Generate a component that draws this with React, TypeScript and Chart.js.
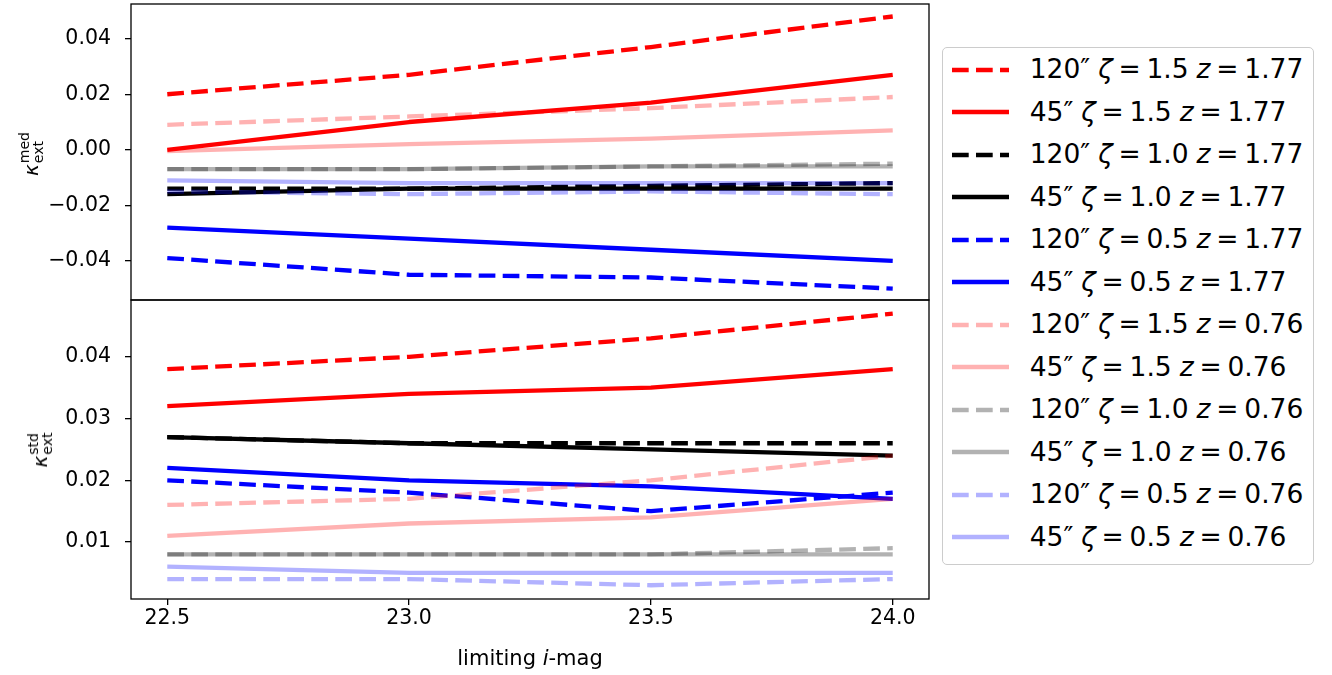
import React, { useEffect, useRef } from 'react';
import { Chart, registerables } from 'chart.js';

Chart.register(...registerables);

// Limiting i-band magnitudes on the shared horizontal axis
const magLimits = [22.5, 23.0, 23.5, 24.0];
const xTickValues = [22.5, 23.0, 23.5, 24.0];
const medTickValues = [-0.04, -0.02, 0.0, 0.02, 0.04];
const stdTickValues = [0.01, 0.02, 0.03, 0.04];

// Legend text parts, one entry per series (same order in both panels)
const apertures = ['120', '45', '120', '45', '120', '45', '120', '45', '120', '45', '120', '45'];
const zetas = ['1.5', '1.5', '1.0', '1.0', '0.5', '0.5', '1.5', '1.5', '1.0', '1.0', '0.5', '0.5'];
const redshifts = ['1.77', '1.77', '1.77', '1.77', '1.77', '1.77', '0.76', '0.76', '0.76', '0.76', '0.76', '0.76'];

// Median external convergence
const med120Zeta15Z177 = [0.020, 0.027, 0.037, 0.048];
const med45Zeta15Z177 = [0.000, 0.010, 0.017, 0.027];
const med120Zeta10Z177 = [-0.014, -0.014, -0.013, -0.012];
const med45Zeta10Z177 = [-0.016, -0.014, -0.014, -0.014];
const med120Zeta05Z177 = [-0.039, -0.045, -0.046, -0.050];
const med45Zeta05Z177 = [-0.028, -0.032, -0.036, -0.040];
const med120Zeta15Z076 = [0.009, 0.012, 0.015, 0.019];
const med45Zeta15Z076 = [-0.0005, 0.002, 0.004, 0.007];
const med120Zeta10Z076 = [-0.007, -0.007, -0.006, -0.005];
const med45Zeta10Z076 = [-0.007, -0.007, -0.006, -0.006];
const med120Zeta05Z076 = [-0.015, -0.016, -0.015, -0.016];
const med45Zeta05Z076 = [-0.011, -0.012, -0.012, -0.012];

// Standard deviation of the external convergence
const std120Zeta15Z177 = [0.038, 0.040, 0.043, 0.047];
const std45Zeta15Z177 = [0.032, 0.034, 0.035, 0.038];
const std120Zeta10Z177 = [0.027, 0.026, 0.026, 0.026];
const std45Zeta10Z177 = [0.027, 0.026, 0.025, 0.024];
const std120Zeta05Z177 = [0.020, 0.018, 0.015, 0.018];
const std45Zeta05Z177 = [0.022, 0.020, 0.019, 0.017];
const std120Zeta15Z076 = [0.016, 0.017, 0.020, 0.024];
const std45Zeta15Z076 = [0.011, 0.013, 0.014, 0.017];
const std120Zeta10Z076 = [0.008, 0.008, 0.008, 0.009];
const std45Zeta10Z076 = [0.008, 0.008, 0.008, 0.008];
const std120Zeta05Z076 = [0.004, 0.004, 0.003, 0.004];
const std45Zeta05Z076 = [0.006, 0.005, 0.005, 0.005];

const medianSeries = [
  med120Zeta15Z177, med45Zeta15Z177, med120Zeta10Z177, med45Zeta10Z177,
  med120Zeta05Z177, med45Zeta05Z177, med120Zeta15Z076, med45Zeta15Z076,
  med120Zeta10Z076, med45Zeta10Z076, med120Zeta05Z076, med45Zeta05Z076,
];
const stdSeries = [
  std120Zeta15Z177, std45Zeta15Z177, std120Zeta10Z177, std45Zeta10Z177,
  std120Zeta05Z177, std45Zeta05Z177, std120Zeta15Z076, std45Zeta15Z076,
  std120Zeta10Z076, std45Zeta10Z076, std120Zeta05Z076, std45Zeta05Z076,
];

// Line styles: strong colours for z = 1.77, faded (30% opacity) for z = 0.76
const seriesColors = [
  '#ff0000', '#ff0000', '#000000', '#000000', '#0000ff', '#0000ff',
  'rgba(255,0,0,0.3)', 'rgba(255,0,0,0.3)', 'rgba(0,0,0,0.3)', 'rgba(0,0,0,0.3)',
  'rgba(0,0,255,0.3)', 'rgba(0,0,255,0.3)',
];
const seriesDashed = [true, false, true, false, true, false, true, false, true, false, true, false];

const FONT = '"DejaVu Sans", sans-serif';
const LINE_WIDTH = 4.3;
const DASH = [16.7, 7.3];
const X_MIN = 22.425;
const X_MAX = 24.075;

const fmtTick = (v: number) => {
  const s = Math.abs(v).toFixed(2);
  return v < -1e-9 ? '\u2212' + s : s;
};

const panelFrame = {
  id: 'panelFrame',
  afterDraw(chart: any) {
    const { ctx, chartArea: a } = chart;
    ctx.save();
    ctx.strokeStyle = '#000';
    ctx.lineWidth = 1.3;
    ctx.strokeRect(a.left, a.top, a.right - a.left, a.bottom - a.top);
    ctx.restore();
  },
};

function buildDatasets(series: number[][]) {
  return series.map((values, i) => ({
    label: `${apertures[i]}\u2033 \u03B6 = ${zetas[i]} z = ${redshifts[i]}`,
    data: magLimits.map((x, j) => ({ x, y: values[j] })),
    borderColor: seriesColors[i],
    backgroundColor: seriesColors[i],
    borderWidth: LINE_WIDTH,
    borderDash: seriesDashed[i] ? DASH : [],
    borderCapStyle: 'butt',
    borderJoinStyle: 'round',
    pointRadius: 0,
    pointHoverRadius: 0,
    tension: 0,
    fill: false,
    order: -i,
  }));
}

function makePanel(
  canvas: HTMLCanvasElement,
  series: number[][],
  yMin: number,
  yMax: number,
  yTicks: number[],
  showX: boolean,
  padding: { top: number; bottom: number; left: number; right: number }
) {
  const tickGrid = {
    drawOnChartArea: false,
    drawTicks: true,
    tickLength: 6,
    color: '#000',
    lineWidth: 1.3,
  };
  return new Chart(canvas, {
    type: 'line',
    data: { datasets: buildDatasets(series) as any },
    options: {
      animation: false,
      responsive: false,
      maintainAspectRatio: false,
      layout: { padding },
      events: [],
      plugins: {
        legend: { display: false },
        tooltip: { enabled: false },
        title: { display: false },
      },
      scales: {
        x: {
          type: 'linear',
          min: X_MIN,
          max: X_MAX,
          display: showX,
          afterBuildTicks: (s: any) => {
            s.ticks = xTickValues.map((v) => ({ value: v }));
          },
          afterFit: (s: any) => {
            s.height = showX ? 76 : 0;
            s.paddingLeft = 0;
            s.paddingRight = 0;
            s.paddingTop = 0;
            s.paddingBottom = 0;
          },
          ticks: {
            color: '#000',
            padding: 1,
            maxRotation: 0,
            autoSkip: false,
            font: { family: FONT, size: 20.5 },
            callback: (v: any) => Number(v).toFixed(1),
          },
          grid: tickGrid,
          border: { display: false },
        },
        y: {
          type: 'linear',
          min: yMin,
          max: yMax,
          afterBuildTicks: (s: any) => {
            s.ticks = yTicks.map((v) => ({ value: v }));
          },
          afterFit: (s: any) => {
            s.width = 131;
            s.paddingLeft = 0;
            s.paddingRight = 0;
            s.paddingTop = 0;
            s.paddingBottom = 0;
          },
          ticks: {
            color: '#000',
            padding: 14,
            autoSkip: false,
            font: { family: FONT, size: 20.5 },
            callback: (v: any) => fmtTick(Number(v)),
          },
          grid: tickGrid,
          border: { display: false },
        },
      },
    } as any,
    plugins: [panelFrame],
  });
}

function KappaLabel({ sup, sub, cx, cy }: { sup: string; sub: string; cx: number; cy: number }) {
  return (
    <div
      style={{
        position: 'absolute',
        left: cx,
        top: cy,
        transform: 'translate(-50%, -50%) rotate(-90deg)',
        display: 'flex',
        alignItems: 'center',
        whiteSpace: 'nowrap',
        fontSize: 20,
        lineHeight: 1,
      }}
    >
      <span style={{ fontStyle: 'italic' }}>κ</span>
      <span
        style={{
          display: 'inline-flex',
          flexDirection: 'column',
          fontSize: 14,
          lineHeight: 1,
          marginLeft: 1,
        }}
      >
        <span>{sup}</span>
        <span>{sub}</span>
      </span>
    </div>
  );
}

function LegendBox() {
  return (
    <div
      style={{
        position: 'absolute',
        left: 942,
        top: 47,
        width: 372,
        height: 518,
        boxSizing: 'border-box',
        border: '1.3px solid #cccccc',
        borderRadius: 5,
        background: '#fff',
      }}
    >
      {apertures.map((ap, i) => (
        <div
          key={i}
          style={{
            position: 'absolute',
            left: 8.7,
            top: 0.45 + 42.5 * i,
            height: 42.5,
            display: 'flex',
            alignItems: 'center',
            whiteSpace: 'nowrap',
            fontSize: 26.5,
          }}
        >
          <svg width={57} height={12} style={{ display: 'block', flex: 'none' }}>
            <line
              x1={0}
              x2={57}
              y1={6}
              y2={6}
              stroke={seriesColors[i]}
              strokeWidth={LINE_WIDTH}
              strokeDasharray={seriesDashed[i] ? DASH.join(' ') : undefined}
            />
          </svg>
          <span style={{ marginLeft: 21, lineHeight: 1 }}>
            {ap}
            {'\u2033'}
            <i style={{ marginLeft: '0.3em' }}>ζ</i>
            <span style={{ margin: '0 0.22em' }}>=</span>
            {zetas[i]}
            <i style={{ marginLeft: '0.3em' }}>z</i>
            <span style={{ margin: '0 0.22em' }}>=</span>
            {redshifts[i]}
          </span>
        </div>
      ))}
    </div>
  );
}

export default function App() {
  const topRef = useRef<HTMLCanvasElement>(null);
  const bottomRef = useRef<HTMLCanvasElement>(null);

  useEffect(() => {
    if (!topRef.current || !bottomRef.current) return;
    const top = makePanel(topRef.current, medianSeries, -0.0541, 0.0525, medTickValues, false, {
      top: 4,
      bottom: 2,
      left: 0,
      right: 11,
    });
    const bottom = makePanel(bottomRef.current, stdSeries, 0.00077, 0.0492, stdTickValues, true, {
      top: 4,
      bottom: 0,
      left: 0,
      right: 11,
    });
    return () => {
      top.destroy();
      bottom.destroy();
    };
  }, []);

  return (
    <div
      style={{
        position: 'absolute',
        left: 0,
        top: 0,
        width: 1332,
        height: 675,
        overflow: 'hidden',
        background: '#fff',
        color: '#000',
        fontFamily: FONT,
      }}
    >
      <canvas
        ref={topRef}
        width={940}
        height={302}
        style={{ position: 'absolute', left: 0, top: 0, display: 'block' }}
      />
      <canvas
        ref={bottomRef}
        width={940}
        height={379}
        style={{ position: 'absolute', left: 0, top: 296, display: 'block' }}
      />
      <KappaLabel sup="med" sub="ext" cx={30.5} cy={154} />
      <KappaLabel sup="std" sub="ext" cx={40} cy={450} />
      <div
        style={{
          position: 'absolute',
          left: 530,
          top: 659,
          transform: 'translate(-50%, -50%)',
          fontSize: 21,
          whiteSpace: 'nowrap',
          lineHeight: 1.2,
        }}
      >
        limiting <i>i</i>-mag
      </div>
      <LegendBox />
    </div>
  );
}
